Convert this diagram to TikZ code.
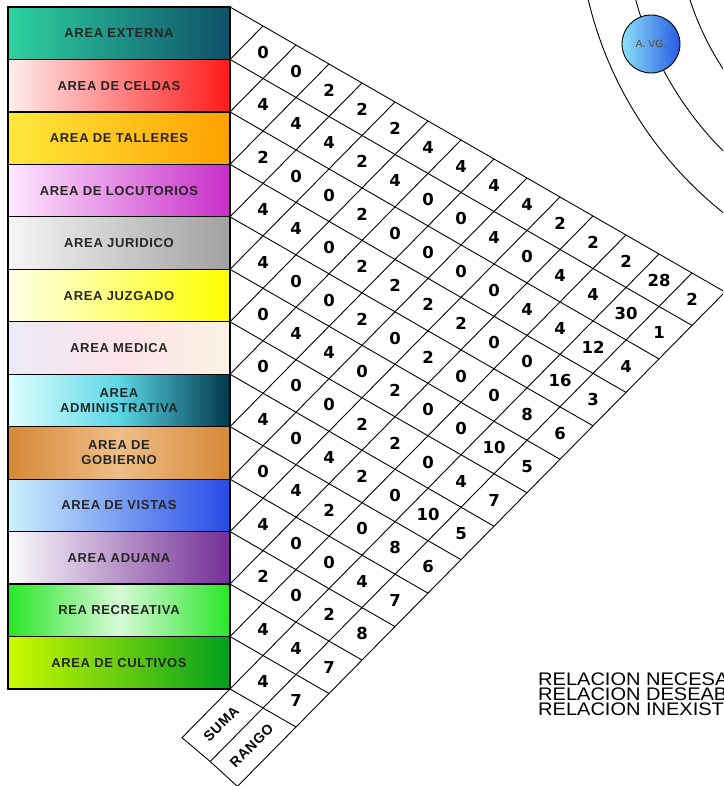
\documentclass[tikz,border=0pt]{standalone}
\usepackage{fontspec}
\setmainfont{Liberation Sans}
\newfontfamily\areafont{Liberation Sans}[LetterSpace=5]
\newfontfamily\numfont{DejaVu Sans}
\newfontfamily\leyfont{Liberation Sans}[FakeStretch=1.1]

\definecolor{externaA}{RGB}{45,210,160}
\definecolor{externaB}{RGB}{15,80,105}
\definecolor{celdasA}{RGB}{255,238,238}
\definecolor{celdasB}{RGB}{255,25,25}
\definecolor{talleresA}{RGB}{255,232,60}
\definecolor{talleresB}{RGB}{255,160,0}
\definecolor{locutA}{RGB}{255,232,255}
\definecolor{locutB}{RGB}{200,45,200}
\definecolor{juridA}{RGB}{246,246,246}
\definecolor{juridB}{RGB}{160,160,160}
\definecolor{juzgA}{RGB}{255,255,232}
\definecolor{juzgB}{RGB}{255,255,0}
\definecolor{medA}{RGB}{236,236,246}
\definecolor{medM}{RGB}{252,226,234}
\definecolor{medB}{RGB}{250,242,226}
\definecolor{adminA}{RGB}{225,255,255}
\definecolor{adminM}{RGB}{90,215,230}
\definecolor{adminB}{RGB}{0,55,75}
\definecolor{gobA}{RGB}{215,135,55}
\definecolor{gobM}{RGB}{238,190,135}
\definecolor{vistasA}{RGB}{205,242,255}
\definecolor{vistasB}{RGB}{40,75,230}
\definecolor{aduanaA}{RGB}{252,252,252}
\definecolor{aduanaB}{RGB}{115,45,150}
\definecolor{recreA}{RGB}{40,230,40}
\definecolor{recreM}{RGB}{215,250,215}
\definecolor{cultA}{RGB}{205,250,0}
\definecolor{cultB}{RGB}{0,160,30}
\definecolor{avgA}{RGB}{140,225,250}
\definecolor{avgB}{RGB}{40,90,225}

\begin{document}
\begin{tikzpicture}[x=1pt, y=-1pt,
    areabox/.style={draw, line width=1.2pt, minimum width=222pt, minimum height=52.46pt,
      inner sep=0pt, align=center, text=black!85,
      font=\areafont\bfseries\fontsize{13}{15}\selectfont},
    rejilla/.style={line width=0.9pt},
    num/.style={inner sep=0pt, font=\numfont\bfseries\fontsize{16.5}{16.5}\selectfont},
    etiq/.style={inner sep=0pt, rotate=45, font=\areafont\bfseries\fontsize{14}{14}\selectfont}]
    \useasboundingbox (0,0) rectangle (723,786);
    \clip (0,0) rectangle (723,786);

    % areas
    \node[areabox, left color=externaA, right color=externaB] (area1) at (119,33.23) {AREA EXTERNA};
    \node[areabox, left color=celdasA, right color=celdasB] (area2) at (119,85.69) {AREA DE CELDAS};
    \node[areabox, left color=talleresA, right color=talleresB] (area3) at (119,138.15) {AREA DE TALLERES};
    \node[areabox, left color=locutA, right color=locutB] (area4) at (119,190.61) {AREA DE LOCUTORIOS};
    \node[areabox, left color=juridA, right color=juridB] (area5) at (119,243.07) {AREA JURIDICO};
    \node[areabox, left color=juzgA, right color=juzgB] (area6) at (119,295.53) {AREA JUZGADO};
    \node[areabox, left color=medA, right color=medB, middle color=medM] (area7) at (119,347.99) {AREA MEDICA};
    \node[areabox, left color=adminA, right color=adminB, middle color=adminM] (area8) at (119,400.45) {AREA\\ADMINISTRATIVA};
    \node[areabox, left color=gobA, right color=gobA, middle color=gobM] (area9) at (119,452.91) {AREA DE\\GOBIERNO};
    \node[areabox, left color=vistasA, right color=vistasB] (area10) at (119,505.37) {AREA DE VISTAS};
    \node[areabox, left color=aduanaA, right color=aduanaB] (area11) at (119,557.83) {AREA ADUANA};
    \node[areabox, left color=recreA, right color=recreA, middle color=recreM] (area12) at (119,610.29) {REA RECREATIVA};
    \node[areabox, left color=cultA, right color=cultB] (area13) at (119,662.75) {AREA DE CULTIVOS};

    % rejilla de relaciones
    \foreach \i in {0,...,13}
      \foreach \j in {\i,...,15}
        \coordinate (v-\i-\j) at ({230+33*(\j-\i)},{7+52.46*\i+19*(\j-\i)});
    \coordinate (sA) at (182,737.7);
    \coordinate (sB) at (210.2,761.5);
    \coordinate (sC) at (237.4,786.4);

    \foreach \i in {0,...,13}
      \draw[rejilla] (v-\i-\i) -- (v-\i-15);
    \foreach \j in {1,...,13}
      \draw[rejilla] (v-\j-\j) -- (v-0-\j);
    \draw[rejilla] (sB) -- (v-13-14) -- (v-0-14);
    \draw[rejilla] (sC) -- (v-13-15) -- (v-0-15);
    \draw[rejilla] (v-13-13) -- (sA) -- (sB) -- (sC);

    \foreach \v [count=\k] in {0,0,2,2,2,4,4,4,4,2,2,2,28,2}
      \node[num] (n-1-\k) at ({230+33*\k},{33.23+19*\k}) {\v};
    \foreach \v [count=\k] in {4,4,4,2,4,0,0,4,0,4,4,30,1}
      \node[num] (n-2-\k) at ({230+33*\k},{85.69+19*\k}) {\v};
    \foreach \v [count=\k] in {2,0,0,2,0,0,0,0,4,4,12,4}
      \node[num] (n-3-\k) at ({230+33*\k},{138.15+19*\k}) {\v};
    \foreach \v [count=\k] in {4,4,0,2,2,2,2,0,0,16,3}
      \node[num] (n-4-\k) at ({230+33*\k},{190.61+19*\k}) {\v};
    \foreach \v [count=\k] in {4,0,0,2,0,2,0,0,8,6}
      \node[num] (n-5-\k) at ({230+33*\k},{243.07+19*\k}) {\v};
    \foreach \v [count=\k] in {0,4,4,0,2,0,0,10,5}
      \node[num] (n-6-\k) at ({230+33*\k},{295.53+19*\k}) {\v};
    \foreach \v [count=\k] in {0,0,0,2,2,0,4,7}
      \node[num] (n-7-\k) at ({230+33*\k},{347.99+19*\k}) {\v};
    \foreach \v [count=\k] in {4,0,4,2,0,10,5}
      \node[num] (n-8-\k) at ({230+33*\k},{400.45+19*\k}) {\v};
    \foreach \v [count=\k] in {0,4,2,0,8,6}
      \node[num] (n-9-\k) at ({230+33*\k},{452.91+19*\k}) {\v};
    \foreach \v [count=\k] in {4,0,0,4,7}
      \node[num] (n-10-\k) at ({230+33*\k},{505.37+19*\k}) {\v};
    \foreach \v [count=\k] in {2,0,2,8}
      \node[num] (n-11-\k) at ({230+33*\k},{557.83+19*\k}) {\v};
    \foreach \v [count=\k] in {4,4,7}
      \node[num] (n-12-\k) at ({230+33*\k},{610.29+19*\k}) {\v};
    \foreach \v [count=\k] in {4,7}
      \node[num] (n-13-\k) at ({230+33*\k},{662.75+19*\k}) {\v};

    \node[etiq] (suma) at (221.3,724) {SUMA};
    \node[etiq] (rango) at (251.6,745.7) {RANGO};

    % anillos
    \coordinate (centro) at (964,-89);
    \draw[rejilla] (centro) circle (386);
    \draw[rejilla] (centro) circle (340);
    \draw[rejilla] (centro) circle (288);
    \node[circle, draw, line width=0.9pt, minimum size=58pt, inner sep=0pt,
      left color=avgA, right color=avgB, text=black!55!olive,
      font=\fontsize{10.5}{10.5}\selectfont] (avg) at (651,44) {A. VG.};

    \node[anchor=north west, inner sep=0pt, align=left,
      font=\leyfont\fontsize{18.2}{15}\selectfont] (leyenda) at (538,673)
      {RELACION NECESA\\RELACION DESEAB\\RELACION INEXIST};
\end{tikzpicture}
\end{document}
